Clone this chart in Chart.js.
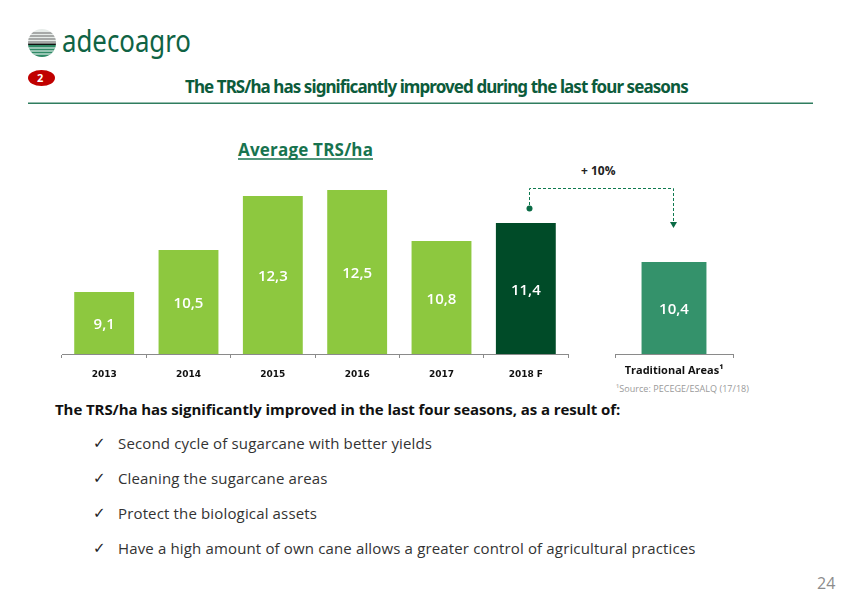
<!DOCTYPE html>
<html><head><meta charset="utf-8">
<script src="https://cdn.jsdelivr.net/npm/chart.js@4"></script>
<style>
html,body{margin:0;padding:0;background:#fff;width:842px;height:595px;overflow:hidden}
body{position:relative;font-family:"Open Sans",sans-serif}
.t{position:absolute;white-space:nowrap;line-height:1}
canvas{position:absolute}
svg{position:absolute;left:0;top:0}
.b{font:15px/1 'Open Sans',sans-serif;color:#333;letter-spacing:.15px;left:118px}
.c{font:15px/1 'DejaVu Sans',sans-serif;color:#222;left:93px}
</style></head><body>
<svg width="842" height="595">
  <defs><clipPath id="g"><circle cx="42" cy="43" r="14"/></clipPath></defs>
  <g clip-path="url(#g)">
    <rect x="28" y="29" width="28" height="28" fill="#e6ece9"/>
    <g stroke="#666" stroke-width="1"><path d="M28 33H56M28 36H56M28 39H56M28 42H56"/></g>
    <rect x="28" y="43.500" width="28" height="1.500" fill="#111"/>
    <rect x="28" y="45" width="28" height="12" fill="#2f8a66"/>
    <g stroke="#fff" stroke-width="1"><path d="M28 48H56M28 51H56M28 54H56"/></g>
  </g>
  <ellipse cx="41.500" cy="78" rx="13.500" ry="8" fill="#c00000"/>
  <rect x="28" y="102.500" width="785" height="1.500" fill="#2f7d5f"/>
  <path d="M238 159H373" stroke="#17734f" stroke-width="1.300"/>
  <g fill="none" stroke="#0f7a50" stroke-width="1" stroke-dasharray="3 2">
    <path d="M529.500 205V188.500H673.500V222"/>
  </g>
  <circle cx="529.500" cy="208.500" r="3" fill="#0a6b45"/>
  <path d="M670 222H677L673.500 228Z" fill="#0a6b45"/>
</svg>

<div class="t" style="left:62px;top:26px;font:30px/1 'Noto Sans',sans-serif;color:#0f6344;transform:scaleX(.86);transform-origin:left top">adecoagro</div>
<div class="t" style="left:37px;top:72px;font:bold 11px/1 'Open Sans',sans-serif;color:#fff">2</div>
<div class="t" style="left:185px;top:78px;font:bold 17px/1 'Noto Sans',sans-serif;color:#0c5b3b;letter-spacing:-.92px" id="title">The TRS/ha has significantly improved during the last four seasons</div>
<div class="t" style="left:238px;top:141px;font:bold 17px/1 'Open Sans',sans-serif;color:#17734f;letter-spacing:.2px">Average TRS/ha</div>
<div class="t" style="left:581px;top:165px;font:bold 12px/1 'Open Sans',sans-serif;color:#222">+ 10%</div>
<div class="t" style="left:616px;top:384px;font:9px/1 'Open Sans',sans-serif;color:#9a9a9a;letter-spacing:.05px">¹Source: PECEGE/ESALQ (17/18)</div>
<div class="t" style="left:55px;top:402px;font:bold 15px/1 'Open Sans',sans-serif;color:#111;letter-spacing:-.08px">The TRS/ha has significantly improved in the last four seasons, as a result of:</div>

<div class="t c" style="top:436px">✓</div>
<div class="t b" style="top:436px">Second cycle of sugarcane with better yields</div>
<div class="t c" style="top:471px">✓</div>
<div class="t b" style="top:471px">Cleaning the sugarcane areas</div>
<div class="t c" style="top:506px">✓</div>
<div class="t b" style="top:506px">Protect the biological assets</div>
<div class="t c" style="top:541px">✓</div>
<div class="t b" style="top:541px">Have a high amount of own cane allows a greater control of agricultural practices</div>
<div class="t" style="left:817px;top:575px;font:16px/1 'Open Sans',sans-serif;color:#8c8c8c">24</div>

<canvas id="c1" style="left:52px;top:180px" width="527" height="205"></canvas>
<canvas id="c2" style="left:605px;top:180px" width="138" height="205"></canvas>
<script>
const seasons = ["2013","2014","2015","2016","2017","2018 F"];
const trsValues = [9.1,10.5,12.3,12.5,10.8,11.4];
const seasonColors = ["#8DC83F","#8DC83F","#8DC83F","#8DC83F","#8DC83F","#004B28"];
const refCategories = ["Traditional Areas¹"];
const refValues = [10.4];
const refColors = ["#34926B"];

const valueLabels = {
  id:"valueLabels",
  afterDatasetsDraw(chart){
    const ctx = chart.ctx, meta = chart.getDatasetMeta(0), floor = chart.scales.y.bottom;
    ctx.save();
    ctx.fillStyle="#fff";ctx.font="600 15px 'Open Sans'";ctx.textAlign="center";ctx.textBaseline="middle";
    meta.data.forEach((bar,i)=>{
      const v = chart.data.datasets[0].data[i];
      ctx.fillText(v.toFixed(1).replace(".",","), bar.x, (bar.y+floor)/2+2);
    });
    ctx.restore();
  }
};
function make(id,labels,data,colors,yMin,yMax,barPct,font,pad,padRight){
  return new Chart(document.getElementById(id),{
    type:"bar",
    data:{labels,datasets:[{data,backgroundColor:colors,barPercentage:barPct,categoryPercentage:1}]},
    options:{
      responsive:false,animation:false,
      layout:{padding:{left:10,right:padRight,top:0,bottom:0}},
      plugins:{legend:{display:false},tooltip:{enabled:false}},
      scales:{
        y:{display:false,min:yMin,max:yMax},
        x:{
          afterFit(s){s.height=31},
          border:{color:"#8a8a8a",width:1},
          grid:{display:true,offset:true,drawOnChartArea:false,drawTicks:true,tickLength:4,color:"#8a8a8a"},
          ticks:{color:"#111",font,padding:pad,maxRotation:0,autoSkip:false}
        }
      }
    },
    plugins:[valueLabels]
  });
}
make("c1",seasons,trsValues,seasonColors,7.03,12.83,0.71,{family:"'DejaVu Sans'",size:9,weight:"bold"},11,11);
make("c2",refCategories,refValues,refColors,7.333,13.133,0.55,{family:"'Open Sans'",size:11,weight:"bold"},6,10);
</script>
</body></html>
